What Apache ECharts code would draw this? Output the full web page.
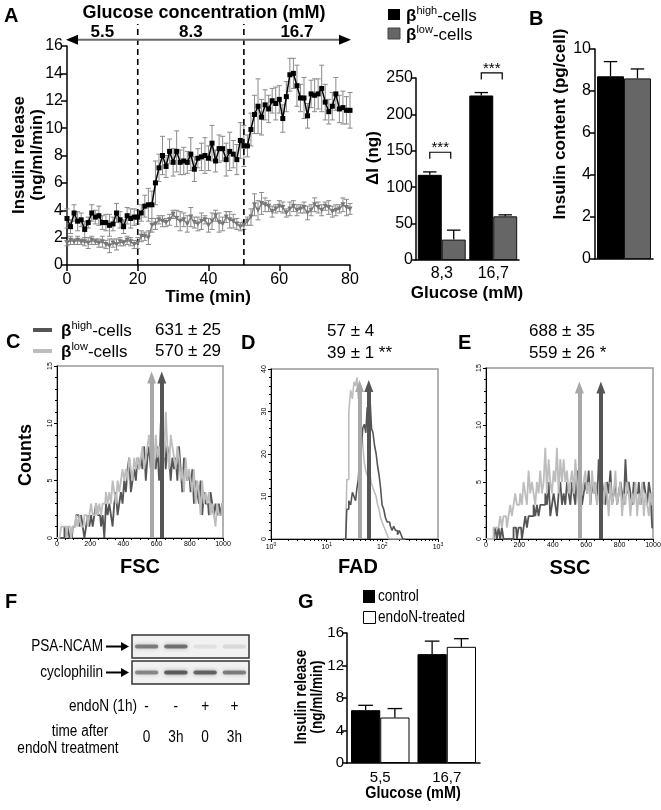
<!DOCTYPE html>
<html><head><meta charset="utf-8">
<script src="https://cdn.jsdelivr.net/npm/echarts@6/dist/echarts.min.js"></script>
<style>html,body{margin:0;padding:0;background:#fff}#c{width:661px;height:810px}</style>
</head><body><div id="c"></div>
<script>
// ---------------- DATA ----------------
// Panel A: perifusion time course (one reading per minute, 0-80 min)
const highRelease = [3.4,2.8,3.8,3.2,3.3,2.6,3.1,3.8,3.5,3.6,3.1,3.1,2.9,3.0,3.8,3.3,2.8,3.6,3.4,3.5,3.5,
  3.8,4.3,4.4,4.4,6.0,7.1,8.0,7.2,8.3,7.5,
  8.3,7.5,7.6,7.5,8.1,7.0,7.8,7.9,8.0,7.8,
  8.9,7.6,8.5,8.5,7.7,8.3,8.1,7.7,9.1,8.7,
  8.7,9.9,11.0,11.6,10.8,11.7,11.4,12.0,11.8,12.1,
  10.7,12.3,13.9,14.0,13.1,12.2,12.2,10.9,12.5,12.4,
  12.5,12.9,11.9,11.2,11.6,12.5,11.4,11.5,11.3,11.3];
const highErr = [0.7,0.5,0.6,0.7,0.5,0.6,0.4,0.6,0.5,0.7,0.5,0.6,0.8,0.5,0.7,0.6,0.5,0.6,0.7,0.6,0.5,
  0.6,0.8,1.2,1.0,1.6,1.0,1.4,0.8,0.9,1.0,
  1.5,0.9,1.0,0.8,1.2,0.9,0.7,1.0,1.3,0.9,
  1.3,0.8,1.0,0.9,1.2,1.4,1.0,1.1,1.3,1.5,
  0.8,1.2,1.4,2.0,1.3,1.1,1.0,0.9,1.2,1.0,
  1.0,1.1,1.2,1.1,1.5,1.0,1.5,0.9,1.0,1.2,
  1.1,1.7,1.3,0.9,1.0,1.2,1.0,1.2,1.0,1.3];
const lowRelease = [1.6,1.8,1.7,1.8,1.7,1.7,1.6,1.8,1.7,1.6,1.7,1.5,1.4,1.6,1.5,1.7,1.6,1.8,1.7,1.5,1.6,
  2.1,2.1,2.0,2.9,3.0,3.3,3.2,3.1,3.3,3.7,
  3.4,3.2,3.3,3.0,3.5,3.1,3.0,3.2,3.3,2.9,
  3.2,3.6,3.1,3.0,3.5,3.3,3.2,3.0,2.8,2.9,
  3.2,3.5,4.4,4.0,4.5,4.4,4.3,3.9,4.1,4.3,
  4.2,3.8,4.1,4.3,4.0,4.1,4.2,3.8,4.0,4.4,
  4.2,4.0,4.3,4.2,3.9,4.0,4.1,4.4,4.2,4.1];
const lowErr = [0.2,0.3,0.2,0.3,0.2,0.3,0.4,0.3,0.2,0.3,0.4,0.3,0.5,0.3,0.4,0.3,0.2,0.3,0.3,0.3,0.4,
  0.4,0.3,0.5,0.5,0.4,0.3,0.4,0.3,0.4,0.3,
  0.6,0.7,0.5,0.6,0.7,0.4,0.5,0.6,0.3,0.5,
  0.6,0.4,0.7,0.5,0.4,0.6,0.5,0.4,0.3,0.3,
  0.3,0.6,0.8,0.7,0.8,0.5,0.4,0.4,0.3,0.4,
  0.4,0.3,0.5,0.4,0.4,0.3,0.4,0.5,0.4,0.5,
  0.4,0.4,0.3,0.5,0.4,0.4,0.3,0.5,0.6,0.4];
const glucoseLabels = ['5.5','8.3','16.7'];
const glucoseChanges = [20, 50];

// Panel A (right): delta insulin
const deltaCats = ['8,3','16,7'];
const deltaHigh = [117, 226];
const deltaHighErr = [4, 4];
const deltaLow = [28, 60];
const deltaLowErr = [13, 2];
const sigLevel = [148, 257];
const sigText = ['***','***'];

// Panel B: insulin content
const contentHigh = [8.7];
const contentHighErr = [0.7];
const contentLow = [8.6];
const contentLowErr = [0.45];

// Panels C-E: flow cytometry histograms (channel bins of 10 for FSC/SSC)
const fscHigh = [0,0,0,0, 0,1,0,1,0,0,1, 1,2,2,1,2,1,0,1,2,1, 2,1,2,3,2,2,1,2,0,3, 2,3,2,1,3,4,2,3,4,3,
  5,4,6,7,4,5,6,5,7,6, 7,6,8,5,7,8,6,9,7,6, 8,5,10,7,9,6,8,7,5,7, 6,7,5,8,6,4,7,6,5,6,
  4,6,3,5,4,3,5,2,4,3, 3,2,4,3,2,3,2,3,2,3];
const fscLow = [0,0,0,1, 1,1,0,1,1,0,1, 1,2,1,2,1,1,2,2,1,2, 3,2,2,3,2,3,2,3,3,4, 3,4,3,5,4,3,5,4,5,6,
  5,6,5,7,6,5,7,6,7,6, 7,8,6,7,8,9,7,8,6,9, 7,8,6,9,7,11,8,6,9,8, 7,6,8,7,5,6,4,7,5,6,
  5,4,6,3,5,4,2,5,3,4, 3,4,2,3,2,1,3,2,2,3];
const fadBins = [20,22,24,26,28,30,32,34,36,38,40,43,46,49,52,55,58,62,66,70,75,80,85,90,96,102,110,118,126,135,145,155,165,180,195,210,225,240,260];
const fadHigh = [0,0,7,9,8,11,10,9,12,14,19,21,26,27,25,31,27,33,26,25,22,20,17,15,12,8,7,5,4,4,3,2,3,2,1,2,1,0,0];
const fadLow = [0,0,14,30,35,33,37,36,38,33,33,28,22,18,16,15,14,15,13,12,11,10,8,7,5,4,3,2,1,0,0,0,0,0,0,0,0,0,0];
const sscHigh = [0,0,0,0,0,0, 1,0,1,0,1, 0,0,0,0,0,0,1,1,0,1, 1,0,1,2,1,2,2,2,3,2, 3,2,3,3,3,4,3,5,2,3,
  4,3,2,4,5,3,4,3,5,4, 3,5,4,3,6,4,5,3,4,5, 4,6,3,5,4,5,3,7,4,5, 4,3,5,4,6,3,4,5,3,4,
  5,4,3,7,4,5,4,3,5,4, 4,5,3,4,5,4,3,5,4,1];
const sscLow = [0,0,0,0,0,1, 1,1,1,2,1, 2,2,1,2,3,2,3,4,3,3, 4,3,5,4,3,6,4,5,4,3, 5,4,6,4,5,8,4,7,5,4,
  6,5,8,4,7,5,7,5,6,4, 5,6,4,7,5,3,6,4,5,6, 4,5,3,6,4,5,3,4,6,5, 3,5,4,2,5,3,4,6,3,4,
  5,2,4,3,5,4,2,4,3,5, 2,4,3,5,2,4,3,2,4,3];
const meanFSC = [631, 570], semFSC = [25, 29];
const meanFAD = [57, 39], semFAD = [4, 1];
const meanSSC = [688, 559], semSSC = [35, 26];
const sigFAD = '**', sigSSC = '*';

// Panel F: western blot lanes
const laneEndoN = ['-','-','+','+'];
const laneTime = ['0','3h','0','3h'];
const psaBand = [0.5, 0.55, 0.08, 0.11];
const cycloBand = [0.45, 0.65, 0.62, 0.5];

// Panel G
const gCats = ['5,5','16,7'];
const gControl = [6.5, 13.4];
const gControlErr = [0.6, 1.6];
const gEndo = [5.6, 14.3];
const gEndoErr = [1.1, 1.0];

// ---------------- STYLE ----------------
const FF = '"Liberation Sans", Arial, Helvetica, sans-serif';
const DARK = '#555555', LIGHT = '#bdbdbd';
const NARROW = 0.85;
const lbl = (size) => ({color:'#000', fontFamily: FF, fontSize: size});
const aLine = (w) => ({show:true, onZero:false, lineStyle:{color:'#000', width: w || 1.5}});
const aTick = (len, w) => ({show:true, length: len, lineStyle:{color:'#000', width: w || 1.5}});
const plain = v => String(v);

function errRender(color, cap, both) {
  return function (params, api) {
    const x = api.value(0), y = api.value(1), e = api.value(2);
    const p = api.coord([x, y]);
    const t = api.coord([x, y + e]);
    const b = both ? api.coord([x, y - e]) : p;
    const st = {stroke: color, lineWidth: 1};
    const ch = [
      {type:'line', shape:{x1:p[0], y1:t[1], x2:p[0], y2:b[1]}, style:st},
      {type:'line', shape:{x1:p[0]-cap, y1:t[1], x2:p[0]+cap, y2:t[1]}, style:st}
    ];
    if (both) ch.push({type:'line', shape:{x1:p[0]-cap, y1:b[1], x2:p[0]+cap, y2:b[1]}, style:st});
    return {type:'group', children: ch};
  };
}
function barErrRender(sign, gap, color, capFrac) {
  return function (params, api) {
    const c = api.value(0), v = api.value(1), e = api.value(2);
    const band = api.size([1, 0])[0];
    const bw = band * (1 - gap) / 2;
    const p = api.coord([c, v]);
    const x = p[0] + sign * bw / 2;
    const t = api.coord([c, v + e])[1];
    const cap = bw * capFrac;
    const st = {stroke: color, lineWidth: 1.3};
    return {type:'group', children:[
      {type:'line', shape:{x1:x, y1:p[1], x2:x, y2:t}, style:st},
      {type:'line', shape:{x1:x-cap, y1:t, x2:x+cap, y2:t}, style:st}
    ]};
  };
}
const errData = (vals, errs) => vals.map((v, i) => [i, v, errs[i]]);
const hist = (vals, step) => vals.map((v, i) => [i * step, v]);
const arrowML = (x, top, color) => ({
  silent:true, symbol:['none','triangle'], symbolSize:[9, 12], animation:false,
  lineStyle:{color: color, width: 4, type:'solid'}, label:{show:false},
  emphasis:{disabled:true},
  data:[[{coord:[x, 0]}, {coord:[x, top]}]]
});

const GAP_A = 0.07, GAP_B = 0.07, GAP_G = 0.12;

const option = {
  animation: false,
  backgroundColor: '#fff',
  grid: [
    {left:67, top:46, width:283, height:219},
    {left:416, top:78, width:103, height:182},
    {left:595, top:49, width:58, height:210},
    {left:57, top:366, width:166, height:172, show:true, borderColor:'#999', borderWidth:1.5},
    {left:271, top:369, width:167, height:170, show:true, borderColor:'#999', borderWidth:1.5},
    {left:486, top:368, width:167, height:171, show:true, borderColor:'#999', borderWidth:1.5},
    {left:132, top:635, width:117, height:49},
    {left:347, top:633, width:133, height:130}
  ].map(g => Object.assign({containLabel:false, outerBoundsMode:'none'}, g)),
  xAxis: [
    {type:'value', gridIndex:0, min:0, max:80, interval:20, axisLine:aLine(1.5), axisTick:aTick(6), axisLabel:Object.assign(lbl(16), {margin:7}), splitLine:{show:false}},
    {type:'category', gridIndex:1, data:deltaCats, axisLine:aLine(1.5), axisTick:{show:false}, axisLabel:Object.assign(lbl(16), {margin:6})},
    {type:'category', gridIndex:2, data:[''], axisLine:aLine(1.5), axisTick:{show:false}, axisLabel:{show:false}},
    {type:'value', gridIndex:3, min:0, max:1000, interval:200, axisLine:aLine(1), axisTick:aTick(3,1), minorTick:{show:true, splitNumber:4, length:2, lineStyle:{color:'#000'}}, axisLabel:Object.assign(lbl(7), {margin:3, formatter:plain}), splitLine:{show:false}},
    {type:'log', gridIndex:4, min:1, max:1000, logBase:10, axisLine:aLine(1), axisTick:aTick(3,1), minorTick:{show:true, splitNumber:9, length:2, lineStyle:{color:'#000'}}, splitLine:{show:false},
      axisLabel:Object.assign(lbl(7), {margin:3, formatter: v => '10{s|' + Math.round(Math.log10(v)) + '}', rich:{s:{fontSize:5, fontFamily:FF, color:'#000', verticalAlign:'top', padding:[0,0,5,0]}}})},
    {type:'value', gridIndex:5, min:0, max:1000, interval:200, axisLine:aLine(1), axisTick:aTick(3,1), minorTick:{show:true, splitNumber:4, length:2, lineStyle:{color:'#000'}}, axisLabel:Object.assign(lbl(7), {margin:3, formatter:plain}), splitLine:{show:false}},
    {type:'value', gridIndex:6, min:0.5, max:4.5, show:false},
    {type:'category', gridIndex:7, data:gCats, axisLine:aLine(1.5), axisTick:{show:false}, axisLabel:Object.assign(lbl(15), {margin:7})}
  ],
  yAxis: [
    {type:'value', gridIndex:0, min:0, max:16, interval:2, axisLine:aLine(1.5), axisTick:aTick(6), axisLabel:Object.assign(lbl(16), {margin:4}), splitLine:{show:false}},
    {type:'value', gridIndex:1, min:0, max:250, interval:50, axisLine:aLine(1.5), axisTick:aTick(5), axisLabel:Object.assign(lbl(16), {margin:3}), splitLine:{show:false}},
    {type:'value', gridIndex:2, min:0, max:10, interval:2, axisLine:aLine(1.5), axisTick:aTick(5), axisLabel:Object.assign(lbl(16), {margin:4}), splitLine:{show:false}},
    {type:'value', gridIndex:3, min:0, max:15, interval:5, axisLine:aLine(1), axisTick:aTick(3,1), minorTick:{show:true, splitNumber:5, length:2, lineStyle:{color:'#000'}}, axisLabel:Object.assign(lbl(7), {margin:3, rotate:90}), splitLine:{show:false}},
    {type:'value', gridIndex:4, min:0, max:40, interval:10, axisLine:aLine(1), axisTick:aTick(3,1), minorTick:{show:true, splitNumber:5, length:2, lineStyle:{color:'#000'}}, axisLabel:Object.assign(lbl(7), {margin:3, rotate:90}), splitLine:{show:false}},
    {type:'value', gridIndex:5, min:0, max:15, interval:5, axisLine:aLine(1), axisTick:aTick(3,1), minorTick:{show:true, splitNumber:5, length:2, lineStyle:{color:'#000'}}, axisLabel:Object.assign(lbl(7), {margin:3, rotate:90}), splitLine:{show:false}},
    {type:'value', gridIndex:6, min:0, max:2, show:false},
    {type:'value', gridIndex:7, min:0, max:16, interval:4, axisLine:aLine(1.5), axisTick:aTick(5), axisLabel:Object.assign(lbl(15), {margin:3}), splitLine:{show:false}}
  ],
  series: [
    // Panel A time course
    {type:'custom', xAxisIndex:0, yAxisIndex:0, z:1, renderItem:errRender('#8a8a8a', 2.5, true), data:errData(highRelease, highErr)},
    {type:'custom', xAxisIndex:0, yAxisIndex:0, z:1, renderItem:errRender('#8a8a8a', 2.5, true), data:errData(lowRelease, lowErr)},
    {type:'line', name:'high', xAxisIndex:0, yAxisIndex:0, z:4, clip:false, data:highRelease.map((v,i)=>[i,v]),
      symbol:'rect', symbolSize:5, itemStyle:{color:'#000'}, lineStyle:{color:'#000', width:1.5}},
    {type:'line', name:'low', xAxisIndex:0, yAxisIndex:0, z:3, clip:false, data:lowRelease.map((v,i)=>[i,v]),
      symbol:'triangle', symbolRotate:180, symbolSize:5, itemStyle:{color:'#777'}, lineStyle:{color:'#7a7a7a', width:1.3}},
    // Panel A delta bars
    {type:'bar', xAxisIndex:1, yAxisIndex:1, data:deltaHigh, barGap:'0%', barCategoryGap:(GAP_A*100)+'%', itemStyle:{color:'#000', borderColor:'#000', borderWidth:1}},
    {type:'bar', xAxisIndex:1, yAxisIndex:1, data:deltaLow, barGap:'0%', barCategoryGap:(GAP_A*100)+'%', itemStyle:{color:'#666', borderColor:'#111', borderWidth:1}},
    {type:'custom', xAxisIndex:1, yAxisIndex:1, z:5, renderItem:barErrRender(-1, GAP_A, '#000', 0.28), data:errData(deltaHigh, deltaHighErr)},
    {type:'custom', xAxisIndex:1, yAxisIndex:1, z:5, renderItem:barErrRender(1, GAP_A, '#000', 0.28), data:errData(deltaLow, deltaLowErr)},
    {type:'custom', xAxisIndex:1, yAxisIndex:1, z:5, data:sigLevel.map((v,i)=>[i,v]), renderItem:function(params, api){
      const c = api.value(0), lv = api.value(1);
      const band = api.size([1,0])[0], bw = band*(1-GAP_A)/2;
      const p = api.coord([c, lv]);
      const x1 = p[0] - bw/2, x2 = p[0] + bw/2 - 3;
      const legY = api.coord([c, lv - 9])[1];
      return {type:'group', children:[
        {type:'polyline', shape:{points:[[x1,legY],[x1,p[1]],[x2,p[1]],[x2,legY]]}, style:{stroke:'#000', fill:null, lineWidth:1.2}},
        {type:'text', x:(x1+x2)/2, y:p[1]+3, style:{text:sigText[params.dataIndex], align:'center', verticalAlign:'bottom', font:'15px '+FF, fill:'#000'}}
      ]};
    }},
    // Panel B
    {type:'bar', xAxisIndex:2, yAxisIndex:2, data:contentHigh, barGap:'0%', barCategoryGap:(GAP_B*100)+'%', itemStyle:{color:'#000', borderColor:'#000', borderWidth:1}},
    {type:'bar', xAxisIndex:2, yAxisIndex:2, data:contentLow, barGap:'0%', barCategoryGap:(GAP_B*100)+'%', itemStyle:{color:'#666', borderColor:'#111', borderWidth:1}},
    {type:'custom', xAxisIndex:2, yAxisIndex:2, z:5, renderItem:barErrRender(-1, GAP_B, '#000', 0.25), data:errData(contentHigh, contentHighErr)},
    {type:'custom', xAxisIndex:2, yAxisIndex:2, z:5, renderItem:barErrRender(1, GAP_B, '#000', 0.25), data:errData(contentLow, contentLowErr)},
    // Panel C
    {type:'line', xAxisIndex:3, yAxisIndex:3, step:'middle', symbol:'none', data:hist(fscHigh, 10), lineStyle:{color:DARK, width:1.8}, markLine:arrowML(meanFSC[0], 14, DARK)},
    {type:'line', xAxisIndex:3, yAxisIndex:3, step:'middle', symbol:'none', data:hist(fscLow, 10), lineStyle:{color:LIGHT, width:1.8}, markLine:arrowML(meanFSC[1], 14, '#a8a8a8')},
    // Panel D
    {type:'line', xAxisIndex:4, yAxisIndex:4, step:'middle', symbol:'none', data:fadLow.map((v,i)=>[fadBins[i], v]), lineStyle:{color:LIGHT, width:1.6}, markLine:arrowML(meanFAD[1], 36, '#a8a8a8')},
    {type:'line', xAxisIndex:4, yAxisIndex:4, step:'middle', symbol:'none', data:fadHigh.map((v,i)=>[fadBins[i], v]), lineStyle:{color:DARK, width:1.6}, markLine:arrowML(meanFAD[0], 36, DARK)},
    // Panel E
    {type:'line', xAxisIndex:5, yAxisIndex:5, step:'middle', symbol:'none', data:hist(sscHigh, 10), lineStyle:{color:DARK, width:1.8}, markLine:arrowML(meanSSC[0], 13.3, DARK)},
    {type:'line', xAxisIndex:5, yAxisIndex:5, step:'middle', symbol:'none', data:hist(sscLow, 10), lineStyle:{color:LIGHT, width:1.8}, markLine:arrowML(meanSSC[1], 13.3, '#a8a8a8')},
    // Panel F blot frames
    {type:'custom', xAxisIndex:6, yAxisIndex:6, z:1, data:[[0],[1]], renderItem:function(params, api){
      const row = api.value(0);
      const top = row === 1 ? 2 : 0.94, bot = row === 1 ? 1.06 : 0;
      const a = api.coord([0.5, top]), b = api.coord([4.5, bot]);
      return {type:'rect', shape:{x:a[0], y:a[1], width:b[0]-a[0], height:b[1]-a[1]}, style:{fill:'#f1f1f1', stroke:'#333', lineWidth:1.5}};
    }},
    // Panel F bands
    {type:'custom', xAxisIndex:6, yAxisIndex:6, z:2,
      data: psaBand.map((v,i)=>[i+1, 1.53, v]).concat(cycloBand.map((v,i)=>[i+1, 0.47, v])),
      renderItem:function(params, api){
        const lane = api.value(0), y = api.value(1), k = api.value(2);
        const c = api.coord([lane, y]);
        const w = api.size([0.8, 0])[0];
        const col = 'rgba(35,35,35,' + k + ')';
        return {type:'rect', shape:{x:c[0]-w/2, y:c[1]-2, width:w, height:4, r:2}, style:{fill:col, shadowBlur:4, shadowColor:col}};
      }},
    // Panel G
    {type:'bar', xAxisIndex:7, yAxisIndex:7, data:gControl, barGap:'0%', barCategoryGap:(GAP_G*100)+'%', itemStyle:{color:'#000', borderColor:'#000', borderWidth:1}},
    {type:'bar', xAxisIndex:7, yAxisIndex:7, data:gEndo, barGap:'0%', barCategoryGap:(GAP_G*100)+'%', itemStyle:{color:'#fff', borderColor:'#000', borderWidth:1}},
    {type:'custom', xAxisIndex:7, yAxisIndex:7, z:5, renderItem:barErrRender(-1, GAP_G, '#000', 0.25), data:errData(gControl, gControlErr)},
    {type:'custom', xAxisIndex:7, yAxisIndex:7, z:5, renderItem:barErrRender(1, GAP_G, '#000', 0.25), data:errData(gEndo, gEndoErr)}
  ]
};

const chart = echarts.init(document.getElementById('c'), null, {renderer:'canvas', width:661, height:810});
chart.setOption(option);

// ---------------- ANNOTATIONS ----------------
const B = (s) => 'bold ' + s + 'px ' + FF;
const R = (s) => s + 'px ' + FF;
const txt = (x, y, text, font, align, vAlign, rot) => ({type:'text', x:x, y:y, rotation: rot || 0, z:100,
  style:{text:text, font:font, fill:'#000', align: align || 'center', verticalAlign: vAlign || 'middle'}});
const ntxt = (x, y, text, font, align, vAlign, rot) => {
  const t = txt(x, y, text, font, align, vAlign, rot);
  t.scaleX = NARROW;
  return t;
};
const betaRich = (sup) => ({type:'text', z:100, style:{
  text:'{b|β}{s|' + sup + '}{n|-cells}', fill:'#000', verticalAlign:'middle',
  rich:{b:{font:B(17), fill:'#000', lineHeight:20, verticalAlign:'bottom'},
        s:{font:R(11), fill:'#000', lineHeight:20, verticalAlign:'top'},
        n:{font:R(17), fill:'#000', lineHeight:20, verticalAlign:'bottom'}}}});

const g = [];
// Panel letters
g.push(txt(4, 16, 'A', B(20), 'left'));
g.push(txt(529, 19, 'B', B(20), 'left'));
g.push(txt(6, 342, 'C', B(20), 'left'));
g.push(txt(241, 343, 'D', B(20), 'left'));
g.push(txt(458, 343, 'E', B(20), 'left'));
g.push(txt(5, 602, 'F', B(20), 'left'));
g.push(txt(298, 602, 'G', B(20), 'left'));

// Panel A annotations placed through the axis scale
const p0 = chart.convertToPixel({gridIndex:0}, [0, 16.45]);
const p80 = chart.convertToPixel({gridIndex:0}, [80, 16.45]);
const ay = p0[1];
g.push({type:'line', z:90, shape:{x1:p0[0]+8, y1:ay, x2:p80[0]-8, y2:ay}, style:{stroke:'#6a6a6a', lineWidth:2}});
g.push({type:'polygon', z:91, shape:{points:[[p0[0]-1,ay],[p0[0]+11,ay-5],[p0[0]+11,ay+5]]}, style:{fill:'#000'}});
g.push({type:'polygon', z:91, shape:{points:[[p80[0]+1,ay],[p80[0]-11,ay-5],[p80[0]-11,ay+5]]}, style:{fill:'#000'}});
glucoseChanges.forEach(t => {
  const a = chart.convertToPixel({gridIndex:0}, [t, 0]);
  const b = chart.convertToPixel({gridIndex:0}, [t, 17.6]);
  g.push({type:'line', z:2, shape:{x1:a[0], y1:a[1], x2:b[0], y2:b[1]}, style:{stroke:'#000', lineWidth:1.6, lineDash:[6,4]}});
});
const segs = [[0, glucoseChanges[0]], [glucoseChanges[0], glucoseChanges[1]], [glucoseChanges[1], 80]];
segs.forEach((s, i) => {
  const m = chart.convertToPixel({gridIndex:0}, [(s[0] + s[1]) / 2, 0])[0];
  g.push(txt(m, 32, glucoseLabels[i], B(17)));
});
g.push(txt(204, 13, 'Glucose concentration (mM)', B(18)));
g.push(txt(208, 297, 'Time (min)', B(17)));
g.push(txt(28, 155, 'Insulin release\n(ng/ml/min)', B(17), 'center', 'middle', Math.PI/2));
g[g.length-1].style.lineHeight = 18;
// A legend
g.push({type:'rect', z:100, shape:{x:388, y:9, width:12, height:11}, style:{fill:'#000'}});
g.push({type:'rect', z:100, shape:{x:388, y:28, width:12, height:11}, style:{fill:'#666', stroke:'#444', lineWidth:1}});
g.push(Object.assign(betaRich('high'), {x:406, y:15}));
g.push(Object.assign(betaRich('low'), {x:406, y:34}));
g.push(txt(373, 158, 'ΔI (ng)', B(17), 'center', 'middle', Math.PI/2));
g.push(txt(467, 293, 'Glucose (mM)', B(17)));
// B
g.push(txt(560, 124, 'Insulin content (pg/cell)', B(17), 'center', 'middle', Math.PI/2));

// C legend and stats
g.push({type:'line', z:100, shape:{x1:33, y1:330, x2:52, y2:330}, style:{stroke:DARK, lineWidth:4}});
g.push({type:'line', z:100, shape:{x1:33, y1:351, x2:52, y2:351}, style:{stroke:LIGHT, lineWidth:4}});
g.push(Object.assign(betaRich('high'), {x:61, y:330}));
g.push(Object.assign(betaRich('low'), {x:61, y:351}));
g.push(txt(155, 330, meanFSC[0] + ' ± ' + semFSC[0], R(17), 'left'));
g.push(txt(155, 351, meanFSC[1] + ' ± ' + semFSC[1], R(17), 'left'));
g.push(txt(327, 331, meanFAD[0] + ' ± ' + semFAD[0], R(17), 'left'));
g.push(txt(327, 353, meanFAD[1] + ' ± ' + semFAD[1] + ' ' + sigFAD, R(17), 'left'));
g.push(txt(529, 331, meanSSC[0] + ' ± ' + semSSC[0], R(17), 'left'));
g.push(txt(529, 353, meanSSC[1] + ' ± ' + semSSC[1] + ' ' + sigSSC, R(17), 'left'));
g.push(txt(26, 455, 'Counts', B(18), 'center', 'middle', Math.PI/2));
g.push(txt(140, 567, 'FSC', B(20)));
g.push(txt(358, 567, 'FAD', B(20)));
g.push(txt(570, 568, 'SSC', B(20)));

// F labels
const rowY = [chart.convertToPixel({gridIndex:6}, [1, 1.53])[1], chart.convertToPixel({gridIndex:6}, [1, 0.47])[1]];
const bx = chart.convertToPixel({gridIndex:6}, [0.5, 0])[0];
[['PSA-NCAM', rowY[0]], ['cyclophilin', rowY[1]]].forEach(r => {
  g.push(ntxt(103, r[1], r[0], R(16), 'right'));
  g.push({type:'line', z:100, shape:{x1:106, y1:r[1], x2:bx-9, y2:r[1]}, style:{stroke:'#000', lineWidth:2}});
  g.push({type:'polygon', z:100, shape:{points:[[bx-3, r[1]], [bx-11, r[1]-4.5], [bx-11, r[1]+4.5]]}, style:{fill:'#000'}});
});
g.push(ntxt(137, 707, 'endoN (1h)', R(16), 'right'));
g.push(ntxt(80, 732, 'time after', R(16)));
g.push(ntxt(68, 749, 'endoN treatment', R(16)));
laneEndoN.forEach((s, i) => {
  const x = chart.convertToPixel({gridIndex:6}, [i + 1, 0])[0];
  g.push(ntxt(x, 707, s, R(16)));
  g.push(ntxt(x, 738, laneTime[i], R(16)));
});

// G
g.push({type:'rect', z:100, shape:{x:363, y:590, width:12, height:13}, style:{fill:'#000'}});
g.push({type:'rect', z:100, shape:{x:363.5, y:611.5, width:12, height:12}, style:{fill:'#fff', stroke:'#000', lineWidth:1}});
g.push(ntxt(378, 597, 'control', R(16), 'left'));
g.push(ntxt(378, 618, 'endoN-treated', R(16), 'left'));
const gt = txt(310, 697, 'Insulin release\n(ng/ml/min)', B(16), 'center', 'middle', Math.PI/2);
gt.style.lineHeight = 16;
gt.scaleX = NARROW;
g.push(gt);
g.push(ntxt(413, 793, 'Glucose (mM)', B(17)));

chart.setOption({graphic: g});
</script>
</body></html>
